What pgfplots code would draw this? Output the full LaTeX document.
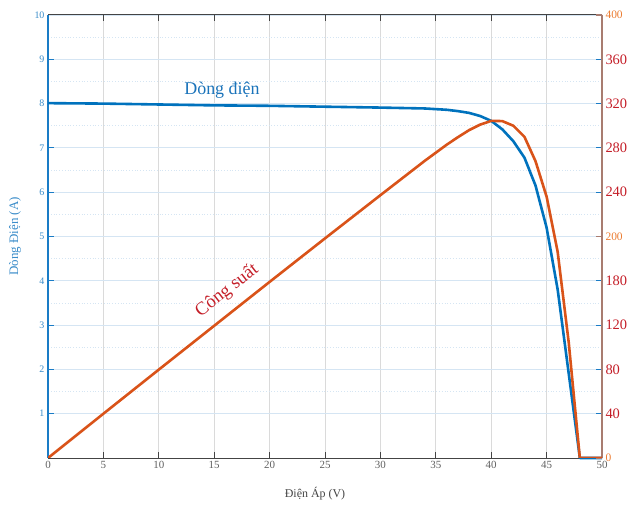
\documentclass[border=0pt]{standalone}
\usepackage{pgfplots}
\pgfplotsset{compat=1.18}
\usepackage{fontspec}
\setmainfont{Liberation Serif}

\definecolor{curblue}{HTML}{0072BD}
\definecolor{poworange}{HTML}{D95319}
\definecolor{lblblue}{HTML}{3A8CC9}
\definecolor{axblue}{HTML}{1A7CC6}
\definecolor{txtblue}{HTML}{1A73BA}
\definecolor{txtred}{HTML}{C41E28}
\definecolor{axbrown}{HTML}{A87C70}
\definecolor{lblorange}{HTML}{EB7A2E}
\definecolor{axgray}{HTML}{444444}
\definecolor{gridblue}{HTML}{D5E5F3}
\definecolor{gridgray}{HTML}{DADADA}

\newcommand{\pl}[1]{\mbox{\fontsize{11.5}{13}\selectfont\color{lblorange}#1}}
\newcommand{\pr}[1]{\mbox{\fontsize{14.5}{16}\selectfont\color{txtred}#1}}

\begin{document}
\begin{tikzpicture}
% current (left scale)
\begin{axis}[
  name=main,
  scale only axis, width=554bp, height=443bp,
  xmin=0, xmax=50, ymin=0, ymax=10,
  xtick={0,5,...,50}, ytick={1,...,10},
  /pgf/number format/assume math mode=true,
  tick align=inside, major tick length=6bp, minor tick length=0pt,
  minor y tick num=1,
  xmajorgrids, ymajorgrids, yminorgrids,
  major x grid style={draw=gridgray, line width=0.8bp},
  major y grid style={draw=gridblue, line width=0.8bp},
  minor y grid style={draw=gridblue, line width=0.8bp, dotted},
  separate axis lines,
  x axis line style={draw=axgray, line width=1bp},
  y axis line style={draw=axblue, line width=1.2bp},
  xtick style={draw=axgray, line width=1bp},
  ytick style={draw=axblue, line width=1bp},
  xticklabel style={font=\fontsize{11}{13}\selectfont, text=axgray!85},
  yticklabel style={font=\fontsize{10}{12}\selectfont, text=lblblue},
  xlabel={Điện Áp (V)},
  xlabel style={at={(axis description cs:0.482,-0.081)}, anchor=center,
    font=\fontsize{12}{14}\selectfont, text=axgray},
  ylabel={Dòng Điện (A)},
  ylabel style={at={(axis description cs:-0.0596,0.5)}, anchor=center,
    font=\fontsize{13}{15}\selectfont, text=lblblue},
  clip=false,
]
\addplot[curblue, line width=2.6bp, line join=round] coordinates {
  (0,8.01) (5,8.00) (10,7.98) (15,7.96) (20,7.95) (25,7.93) (30,7.91)
  (34,7.89) (36,7.86) (37,7.83) (38,7.79) (39,7.72) (40,7.61) (41,7.42)
  (42,7.15) (43,6.78) (44,6.15) (45,5.20) (46,3.80) (47,1.90) (48,0) (50,0)
};
\node[text=txtblue, font=\fontsize{18}{20}\selectfont] at (axis cs:15.7,8.3) {Dòng điện};
\node[text=txtred, font=\fontsize{18.5}{20}\selectfont, rotate=38] at (axis cs:16.15,3.78) {Công suất};
\end{axis}

% power (right scale)
\begin{axis}[
  scale only axis, width=554bp, height=443bp,
  xmin=0, xmax=50, ymin=0, ymax=400,
  axis y line*=right, axis x line=none,
  ytick={0,200,400},
  yticklabels={\pl{0},\pl{200},\pl{400}},
  tick align=inside, major tick length=6bp,
  y axis line style={draw=axbrown, line width=2bp},
  ytick style={draw=axbrown, line width=1.5bp},
  extra y ticks={40,80,120,160,240,280,320,360},
  extra y tick labels={\pr{40},\pr{80},\pr{120},\pr{180},\pr{240},\pr{280},\pr{320},\pr{360}},
  extra y tick style={major tick length=0pt},
]
\addplot[poworange, line width=2.6bp, line join=round] coordinates {
  (0,0) (5,40) (10,79.8) (15,119.4) (20,159) (25,198.3) (30,237.3)
  (34,268.3) (36,283) (37,289.7) (38,296) (39,301) (40,304.4) (41,304.2)
  (42,300) (43,290) (44,268) (45,236) (46,186) (47,104) (48,0) (50,0)
};
\end{axis}

\pgfresetboundingbox
\path[use as bounding box] ([shift={(-48bp,-48bp)}]main.south west)
  rectangle ([shift={(33bp,15bp)}]main.north east);
\end{tikzpicture}
\end{document}
